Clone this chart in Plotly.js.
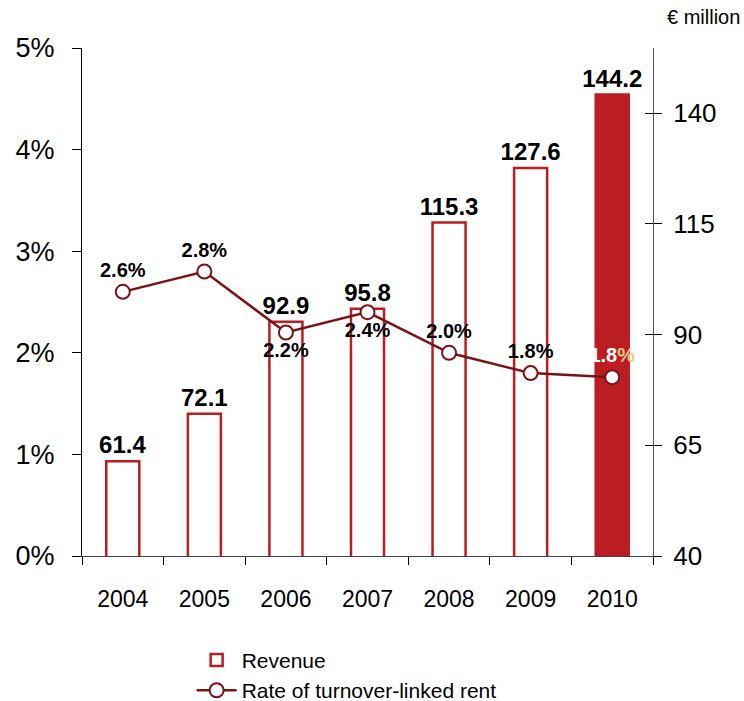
<!DOCTYPE html>
<html>
<head>
<meta charset="utf-8">
<script src="https://cdn.plot.ly/plotly-3.0.1.min.js"></script>
<style>html,body{margin:0;padding:0;background:#fff;}#chart{width:744px;height:701px;}</style>
</head>
<body>
<div id="chart"></div>
<script>
const years = ['2004','2005','2006','2007','2008','2009','2010'];
const revenue = [61.4, 72.1, 92.9, 95.8, 115.3, 127.6, 144.2];
const revenueLabels = ['61.4','72.1','92.9','95.8','115.3','127.6','144.2'];
const rentRate = [2.6, 2.8, 2.2, 2.4, 2.0, 1.8, 1.76];
const rentLabels = ['2.6%','2.8%','2.2%','2.4%','2.0%','1.8%','1.8<span style="color:#e6c88a">%</span>'];
const leftTicks = [0,1,2,3,4,5];
const leftTickText = ['0%','1%','2%','3%','4%','5%'];
const rightTicks = [40,65,90,115,140];

const font = 'Liberation Sans, Arial, sans-serif';
const red = '#bb1d23';
const dark = '#7a1216';

const barTrace = {
  type:'bar', name:'Revenue', x: years, y: revenue, yaxis:'y',
  width: 0.405,
  marker:{color: years.map((y,i)=> i===years.length-1 ? red : '#ffffff'), line:{color: red, width:2.5}},
  text: revenueLabels, textposition:'outside', cliponaxis:false, constraintext:'none',
  textfont:{family:font, size:24, color:'#000', weight:'bold'},
  hoverinfo:'x+y'
};
const lineTrace = {
  type:'scatter', mode:'lines+markers+text', name:'Rate of turnover-linked rent',
  x: years, y: rentRate, yaxis:'y2',
  line:{color: dark, width:2.5},
  marker:{size:14, color:'#ffffff', line:{color: dark, width:2}},
  text: rentLabels,
  textposition:['top center','top center','bottom center','bottom center','top center','top center','top center'],
  textfont:{family:font, size:20, color:['#000','#000','#000','#000','#000','#000','#ffffff'], weight:'bold'},
  cliponaxis:false
};
const tickHelper = {type:'scatter', x:[years[0]], y:[40], yaxis:'y3', mode:'markers', marker:{opacity:0}, showlegend:false, hoverinfo:'skip'};

const layout = {
  width:744, height:701,
  margin:{l:82, r:91, t:48, b:145, autoexpand:false},
  paper_bgcolor:'#fff', plot_bgcolor:'#fff',
  showlegend:true,
  barmode:'group',
  font:{family:font, color:'#000'},
  xaxis:{
    type:'category', showgrid:false, zeroline:false,
    showline:true, linecolor:'#444', linewidth:1,
    ticks:'outside', ticklen:8, tickcolor:'#000', tickson:'boundaries',
    tickfont:{family:font, size:23, color:'#000'}, ticklabelstandoff:22
  },
  yaxis:{
    range:[40,154.7], tickvals:rightTicks, side:'right',
    showgrid:false, zeroline:false, showline:true, linecolor:'#555', linewidth:1,
    ticks:'outside', ticklen:8, tickcolor:'#000',
    tickfont:{family:font, size:26, color:'#000'}, ticklabelstandoff:6
  },
  yaxis2:{
    range:[0,5], tickvals:leftTicks, ticktext:leftTickText, side:'left', overlaying:'y',
    showgrid:false, zeroline:false, showline:true, linecolor:'#000', linewidth:1,
    ticks:'outside', ticklen:9, tickcolor:'#000',
    tickfont:{family:font, size:27, color:'#000'}, ticklabelstandoff:12
  },
  yaxis3:{
    range:[40,154.7], tickvals:rightTicks, overlaying:'y', side:'right',
    showgrid:false, zeroline:false, showline:false, showticklabels:false,
    ticks:'inside', ticklen:8, tickcolor:'#000'
  },
  legend:{
    x:0.192, xanchor:'left', y:-0.165, yanchor:'top',
    orientation:'v', font:{family:font, size:21, color:'#000'},
    itemwidth:40, tracegroupgap:0, bgcolor:'rgba(0,0,0,0)'
  },
  annotations:[{
    text:'€ million', xref:'paper', yref:'paper', x:1.155, y:1.035,
    xanchor:'right', yanchor:'bottom', showarrow:false,
    font:{family:font, size:20, color:'#000'}
  }]
};

Plotly.newPlot('chart', [barTrace, lineTrace, tickHelper], layout, {displayModeBar:false, staticPlot:true});
</script>
</body>
</html>
